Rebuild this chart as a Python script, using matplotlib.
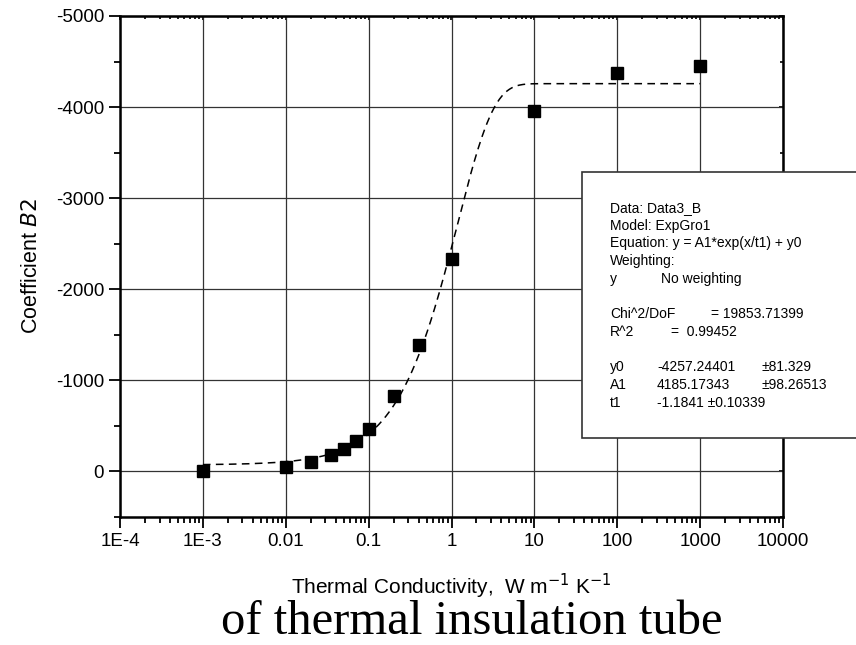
import numpy as np
import matplotlib.pyplot as plt
from matplotlib.ticker import FixedLocator, LogLocator, NullFormatter

plt.rcParams['font.family'] = ['Liberation Sans', 'DejaVu Sans']
plt.rcParams['axes.unicode_minus'] = False

# measured points
conductivity = [0.001, 0.01, 0.02, 0.035, 0.05, 0.07, 0.1, 0.2, 0.4, 1, 10, 100, 1000]
coef_b2 = [-2, -47, -102, -176, -245, -337, -461, -827, -1385, -2330, -3956, -4374, -4454]

# ExpGro1 fit parameters from the report box
y0 = -4257.24401
A1 = 4185.17343
t1 = -1.1841

x_ticks = [1e-4, 1e-3, 0.01, 0.1, 1, 10, 100, 1000, 10000]
x_tick_labels = ['1E-4', '1E-3', '0.01', '0.1', '1', '10', '100', '1000', '10000']
y_ticks = [0, -1000, -2000, -3000, -4000, -5000]

fig = plt.figure(figsize=(8.56, 6.45), dpi=100)
ax = fig.add_axes([120 / 856, 1 - 517 / 645, (783 - 120) / 856, (517 - 16) / 645])

xfit = np.logspace(-3, 3, 400)
yfit = A1 * np.exp(xfit / t1) + y0
ax.plot(xfit, yfit, color='black', lw=1.1, ls=(0, (5, 3.5)), zorder=3)
ax.plot(conductivity, coef_b2, 's', color='black', markersize=8.5, zorder=4)

ax.set_xscale('log')
ax.set_xlim(1e-4, 1e4)
ax.set_ylim(500, -5000)
ax.set_xticks(x_ticks)
ax.set_xticklabels(x_tick_labels)
minor_x = LogLocator(base=10, subs=np.arange(2, 10), numticks=20)
minor_y = np.arange(500, -5001, -500)
ax.xaxis.set_minor_locator(minor_x)
ax.xaxis.set_minor_formatter(NullFormatter())
ax.set_yticks(y_ticks)
ax.yaxis.set_minor_locator(FixedLocator(minor_y))

ax.grid(True, which='major', color='#333333', lw=0.9)
ax.set_axisbelow(True)
for s in ax.spines.values():
    s.set_linewidth(1.8)

ax.tick_params(which='both', labelsize=13.5, width=1.3, direction='out')
ax.tick_params(which='major', length=8)
ax.tick_params(which='minor', length=4)

# small inward ticks on the top and right
top = ax.secondary_xaxis('top')
top.set_xticks(x_ticks)
top.xaxis.set_minor_locator(LogLocator(base=10, subs=np.arange(2, 10), numticks=20))
top.tick_params(which='both', direction='in', labeltop=False, width=1.2)
top.tick_params(which='major', length=3)
top.tick_params(which='minor', length=2.5)
top.xaxis.set_minor_formatter(NullFormatter())
right = ax.secondary_yaxis('right')
right.set_yticks(y_ticks)
right.yaxis.set_minor_locator(FixedLocator(minor_y))
right.tick_params(which='both', direction='in', labelright=False, width=1.2)
right.tick_params(which='major', length=3)
right.tick_params(which='minor', length=2.5)

ax.set_ylabel('Coefficient $\\it{B2}$', fontsize=15.5, labelpad=10)
ax.set_xlabel('Thermal Conductivity,  W m$^{-1}$ K$^{-1}$', fontsize=15, labelpad=16)

fig.text(472 / 856, 1 - 634 / 645, 'of thermal insulation tube', family=['Liberation Serif'],
         fontsize=35, ha='center', va='baseline')

# fit report box
box = plt.Rectangle((582 / 856, 1 - 438 / 645), 0.5, (438 - 172) / 645, transform=fig.transFigure,
                    facecolor='white', edgecolor='#333333', lw=1.2, zorder=10)
fig.patches.append(box)

left_col = ['Data: Data3_B', 'Model: ExpGro1', 'Equation: y = A1*exp(x/t1) + y0', 'Weighting:', 'y',
            '', 'Chi^2/DoF', 'R^2', '', 'y0', 'A1', 't1']
mid_col = {4: (661, 'No weighting'), 6: (711, '= 19853.71399'), 7: (671, '=  0.99452'),
           9: (657, '-4257.24401'), 10: (657, '4185.17343'), 11: (657, '-1.1841 \u00b10.10339')}
right_col = {9: '\u00b181.329', 10: '\u00b198.26513'}
for i, t in enumerate(left_col):
    yy = 1 - (208 + i * 17.7) / 645
    fig.text(610 / 856, yy, t, fontsize=10, va='center', zorder=11)
    if i in mid_col:
        fig.text(mid_col[i][0] / 856, yy, mid_col[i][1], fontsize=10, va='center', zorder=11)
    if i in right_col:
        fig.text(762 / 856, yy, right_col[i], fontsize=10, va='center', zorder=11)

fig.savefig('out.png', dpi=100)
